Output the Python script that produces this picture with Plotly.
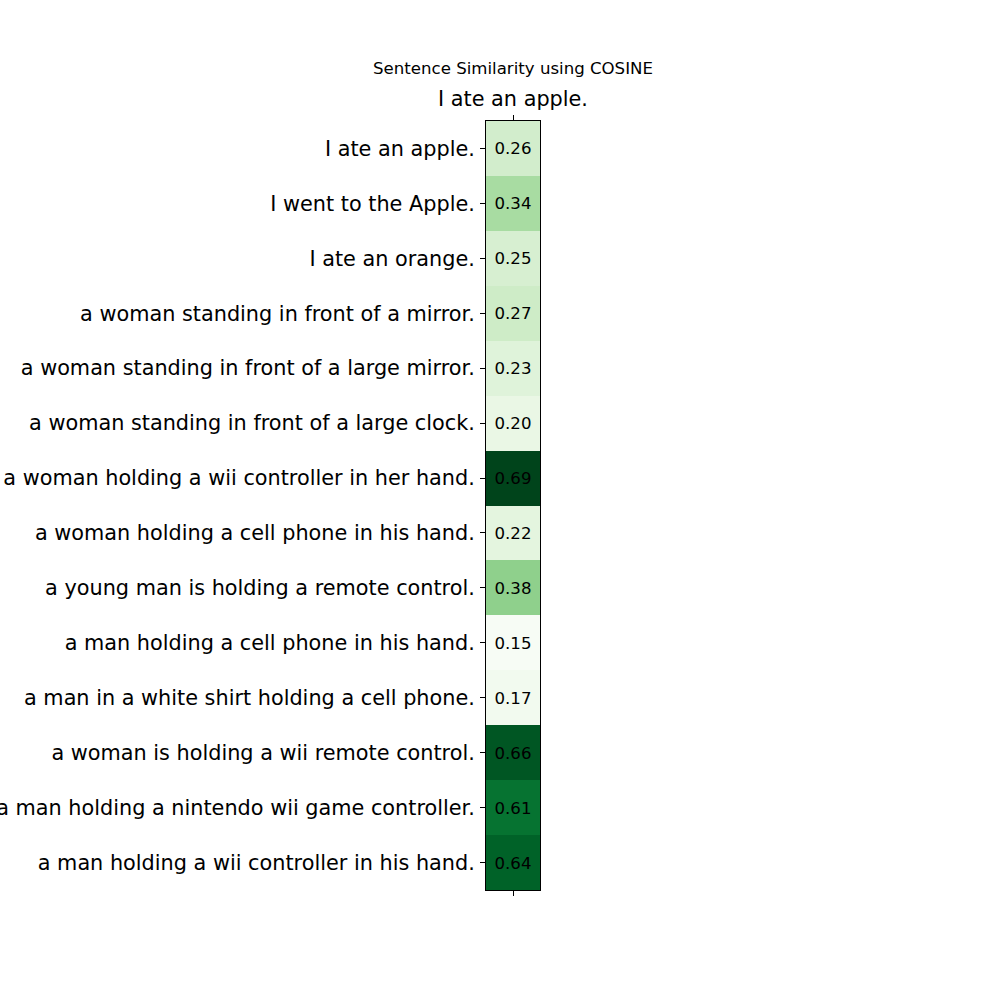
import plotly.graph_objects as go

sentences = [
    "I ate an apple.",
    "I went to the Apple.",
    "I ate an orange.",
    "a woman standing in front of a mirror.",
    "a woman standing in front of a large mirror.",
    "a woman standing in front of a large clock.",
    "a woman holding a wii controller in her hand.",
    "a woman holding a cell phone in his hand.",
    "a young man is holding a remote control.",
    "a man holding a cell phone in his hand.",
    "a man in a white shirt holding a cell phone.",
    "a woman is holding a wii remote control.",
    "a man holding a nintendo wii game controller.",
    "a man holding a wii controller in his hand.",
]
query = ["I ate an apple."]
scores = [0.26, 0.34, 0.25, 0.27, 0.23, 0.20, 0.69, 0.22, 0.38, 0.15, 0.17, 0.66, 0.61, 0.64]

z = [[s] for s in scores]

fig = go.Figure(go.Heatmap(
    z=z,
    x=query,
    y=sentences,
    colorscale="Greens",
    zmin=min(scores),
    zmax=max(scores),
    showscale=False,
    texttemplate="%{z:.2f}",
    textfont=dict(family="DejaVu Sans", size=16.6, color="black"),
    xgap=0, ygap=0,
))

fig.update_layout(
    width=1000, height=1000,
    margin=dict(l=486, r=460, t=121, b=110),
    paper_bgcolor="white", plot_bgcolor="white",
    font=dict(family="DejaVu Sans", color="black"),
    title=dict(text="Sentence Similarity using COSINE", x=0.513, xanchor="center",
               y=1 - 68 / 1000, yanchor="middle", font=dict(size=16.6)),
)
fig.update_xaxes(side="top", ticks="outside", ticklen=5, tickcolor="black",
                 tickfont=dict(size=20.8), showline=True, linecolor="black", mirror="ticks",
                 showgrid=False, zeroline=False, automargin=False, ticklabelstandoff=1)
fig.update_yaxes(autorange="reversed", ticks="outside", ticklen=5, tickcolor="black",
                 tickfont=dict(size=20.8), showline=True, linecolor="black", mirror=True,
                 showgrid=False, zeroline=False, automargin=False, ticklabelstandoff=1)

fig.write_html("out.html")
